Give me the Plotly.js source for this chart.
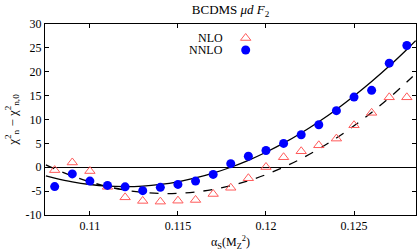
<!DOCTYPE html>
<html><head><meta charset="utf-8">
<script src="https://cdn.plot.ly/plotly-3.0.1.min.js"></script>
<style>html,body{margin:0;padding:0;background:#fff}#plot{width:417px;height:251px}</style>
</head><body><div id="plot"></div>
<script>
// alpha_S values of the scan
var alphaS = [0.108,0.109,0.110,0.111,0.112,0.113,0.114,0.115,0.116,0.117,0.118,0.119,0.120,0.121,0.122,0.123,0.124,0.125,0.126,0.127,0.128];
// NLO chi2 differences (open triangles)
var nloChi2 = [-0.6,1.0,-0.8,-4.1,-6.3,-7.05,-7.2,-7.0,-6.85,-5.6,-4.3,-2.3,0.05,2.1,3.35,4.6,6.0,8.8,11.4,14.65,14.65];
// NNLO chi2 differences (filled circles)
var nnloChi2 = [-4.05,-1.4,-2.9,-3.8,-4.1,-4.9,-4.2,-3.6,-2.9,-1.5,0.75,2.3,3.5,5.0,6.8,8.9,11.85,14.7,16.1,21.8,25.5];
// fitted curves
var curveX = [0.1075,0.108,0.109,0.110,0.111,0.112,0.113,0.114,0.115,0.116,0.117,0.118,0.119,0.120,0.121,0.122,0.123,0.124,0.125,0.126,0.127,0.128,0.1285];
var nnloFit = [-1.80,-2.27,-3.06,-3.61,-3.95,-4.05,-3.94,-3.60,-3.04,-2.25,-1.24,0.0,1.45,3.14,5.04,7.18,9.53,12.11,14.91,17.94,21.19,24.67,26.5];
var nloFit = [0.50,-0.34,-1.83,-3.06,-4.05,-4.78,-5.26,-5.49,-5.46,-5.18,-4.65,-3.87,-2.83,-1.54,0.0,1.79,3.83,6.13,8.68,11.48,14.54,17.85,19.59];
var xTickVals = [0.11,0.115,0.12,0.125];
var xTickText = ["0.11","0.115","0.12","0.125"];
var yTickVals = [-10,-5,0,5,10,15,20,25,30];
var yTickText = ["-10","-5","0","5","10","15","20","25","30"];

var serif = "Liberation Serif, DejaVu Serif, serif";
var data = [
  {x: curveX, y: nloFit, mode: "lines", line: {color: "#000", width: 1.3, dash: "dash", shape: "spline"}, showlegend: false, hoverinfo: "skip"},
  {x: curveX, y: nnloFit, mode: "lines", line: {color: "#000", width: 1.3, shape: "spline"}, showlegend: false, hoverinfo: "skip"},
  {x: alphaS, y: nloChi2, mode: "markers", name: "", legend: "legend",
   marker: {symbol: "triangle-up-open", size: 9, color: "#ff5a5a", line: {width: 1, color: "#ff5a5a"}}},
  {x: alphaS, y: nnloChi2, mode: "markers", name: "", legend: "legend2",
   marker: {symbol: "circle", size: 9, color: "#0000ff"}}
];
var axisCommon = {showline: true, mirror: "ticks", linecolor: "#000", linewidth: 1, ticks: "inside", ticklen: 4, tickcolor: "#000",
  showgrid: false, tickfont: {family: serif, size: 12, color: "#000"}};
var layout = {
  width: 417, height: 251,
  margin: {l: 45, r: 1, t: 24, b: 36},
  paper_bgcolor: "#fff", plot_bgcolor: "#fff",
  title: {text: "BCDMS <i>μd F</i><sub>2</sub>", font: {family: serif, size: 13, color: "#000"}, x: 0.553, xanchor: "center", y: 0.98, yanchor: "top"},
  xaxis: Object.assign({}, axisCommon, {range: [0.10745, 0.12852], tickvals: xTickVals, ticktext: xTickText, zeroline: false,
    title: {text: "α<sub>S</sub>(M<sub>Z</sub><sup>2</sup>)", font: {family: serif, size: 12, color: "#000"}, standoff: 5}}),
  yaxis: Object.assign({}, axisCommon, {range: [-10, 30], tickvals: yTickVals, ticktext: yTickText,
    zeroline: true, zerolinecolor: "#000", zerolinewidth: 1.5,
    title: {text: "χ<sup>2</sup><sub>n</sub> − χ<sup>2</sup><sub>n,0</sub>", font: {family: serif, size: 13, color: "#000"}, standoff: 5}}),
  legend: {x: 0.487, y: 0.9267, xanchor: "left", yanchor: "middle", bgcolor: "rgba(0,0,0,0)", font: {family: serif, size: 12}},
  legend2: {x: 0.487, y: 0.8639, xanchor: "left", yanchor: "middle", bgcolor: "rgba(0,0,0,0)", font: {family: serif, size: 12}},
  annotations: [
    {xref: "paper", yref: "paper", x: 0.4852, y: 0.9267, xanchor: "right", yanchor: "middle", text: "NLO", showarrow: false, font: {family: serif, size: 12, color: "#000"}},
    {xref: "paper", yref: "paper", x: 0.4852, y: 0.8639, xanchor: "right", yanchor: "middle", text: "NNLO", showarrow: false, font: {family: serif, size: 12, color: "#000"}}
  ]
};
Plotly.newPlot("plot", data, layout, {displayModeBar: false, staticPlot: true});
</script></body></html>
